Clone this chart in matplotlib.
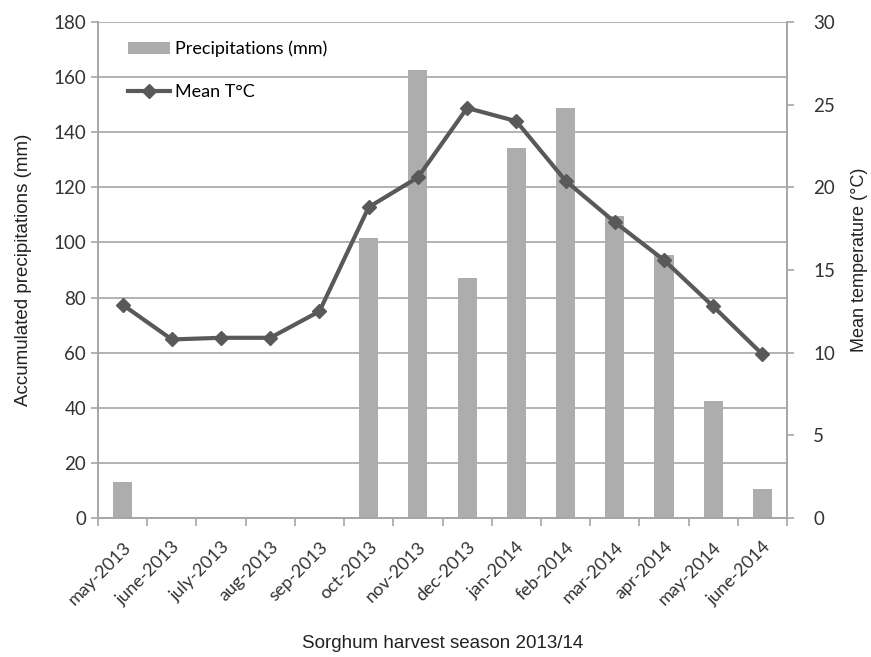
import numpy as np
import matplotlib.pyplot as plt

# Monthly data, sorghum season 2013/14
months = ['may-2013', 'june-2013', 'july-2013', 'aug-2013', 'sep-2013', 'oct-2013',
          'nov-2013', 'dec-2013', 'jan-2014', 'feb-2014', 'mar-2014', 'apr-2014',
          'may-2014', 'june-2014']
precip = [13, 0, 0, 0, 0, 101.5, 162.6, 87, 134.4, 148.7, 109.7, 95.4, 42.6, 10.4]
temp = [12.9, 10.8, 10.9, 10.9, 12.5, 18.8, 20.6, 24.8, 24.0, 20.4, 17.9, 15.6, 12.8, 9.9]

grey = '#a6a6a6'
tick_font = 'Lato'
label_font = 'Liberation Sans'

fig = plt.figure(figsize=(8.71, 6.57), dpi=100)
ax = fig.add_axes([98 / 871, 1 - 518 / 657, (787 - 98) / 871, (518 - 22) / 657])
ax2 = ax.twinx()

x = np.arange(len(months))
bars = ax.bar(x, precip, width=0.39, color='#adadad', zorder=2, label='Precipitations (mm)')
line, = ax2.plot(x, temp, color='#595959', lw=3, marker='D', ms=7, zorder=3, label='Mean T°C')

ax.set_xlim(-0.5, len(months) - 0.5)
ax.set_ylim(0, 180)
ax2.set_ylim(0, 30)
ax.set_yticks(range(0, 181, 20))
ax2.set_yticks(range(0, 31, 5))
ax.yaxis.grid(True, color=grey, lw=1.2, zorder=0)
ax.set_axisbelow(True)

ax.set_xticks(x)
ax.set_xticklabels(months, rotation=45, ha='right', rotation_mode='anchor',
                   fontsize=13, family=tick_font, color='#333333')
ax.set_xticks(np.arange(-0.5, len(months), 1), minor=True)
ax.tick_params(axis='x', which='major', length=0, pad=15)
ax.tick_params(axis='x', which='minor', length=6, color=grey, width=1.2)
ax.tick_params(axis='y', length=5, color=grey, width=1.2, labelsize=13.5, labelcolor='#333333')
ax2.tick_params(axis='y', length=5, color=grey, width=1.2, labelsize=13.5, labelcolor='#333333', pad=14)
for lab in ax.get_yticklabels() + ax2.get_yticklabels():
    lab.set_family(tick_font)

for a in (ax, ax2):
    a.spines['top'].set_visible(False)
    for s in ('left', 'right', 'bottom'):
        a.spines[s].set_color(grey)
        a.spines[s].set_linewidth(1.2)

ax.set_ylabel('Accumulated precipitations (mm)', fontsize=13.5, family=label_font, color='#222222')
ax2.set_ylabel('Mean temperature (°C)', fontsize=13, family=label_font, color='#222222')
ax.set_xlabel('Sorghum harvest season 2013/14', fontsize=13.5, family=label_font, color='#222222')
ax.yaxis.set_label_coords(-0.096, 0.5)
ax2.yaxis.set_label_coords(1.093, 0.52)
ax.xaxis.set_label_coords(0.5, -0.236)

ax2.legend([bars, line], ['Precipitations (mm)', 'Mean T°C'], loc='upper left',
           bbox_to_anchor=(0.02, 0.995), frameon=False, labelspacing=1.5,
           handlelength=2.3, handletextpad=0.3, prop={'family': tick_font, 'size': 13})

fig.savefig('out.png', dpi=100)
